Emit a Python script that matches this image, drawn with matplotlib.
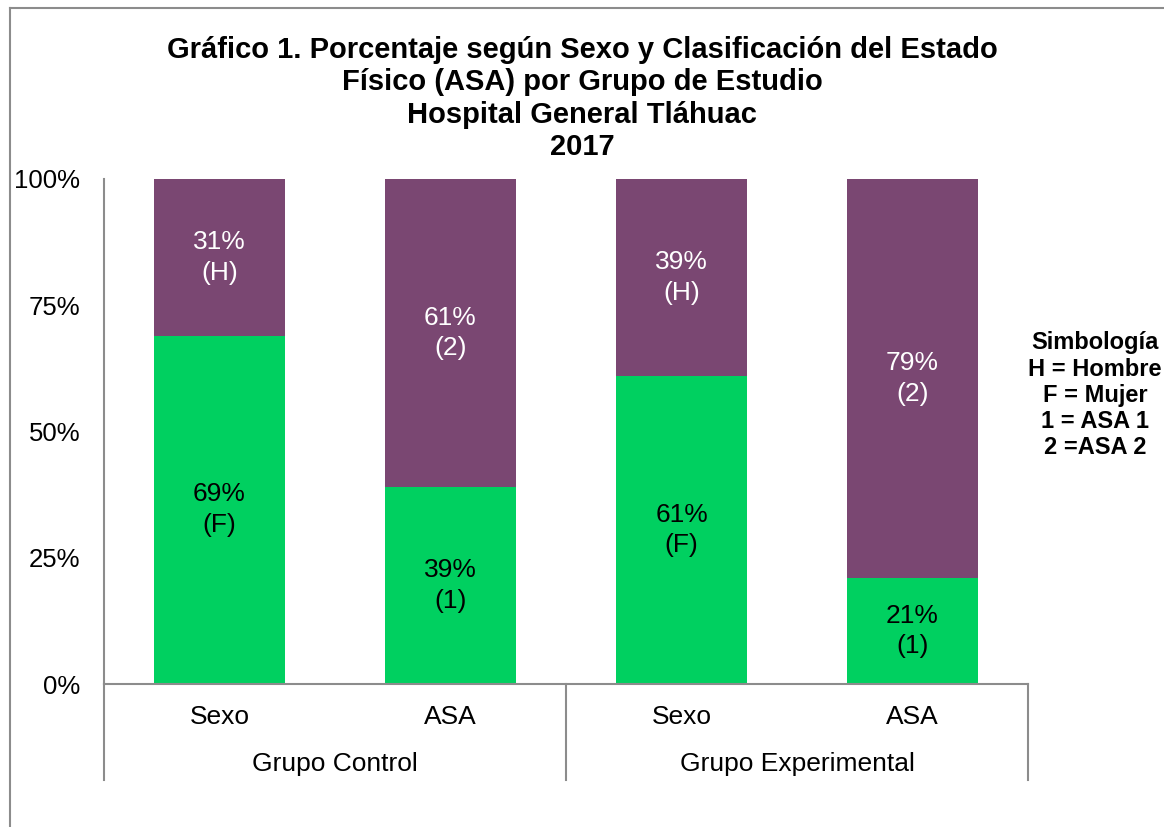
import matplotlib.pyplot as plt
from matplotlib.lines import Line2D

# Data
categories = ["Sexo", "ASA", "Sexo", "ASA"]
groups = ["Grupo Control", "Grupo Experimental"]
bottom_values = [69, 39, 61, 21]
top_values = [31, 61, 39, 79]
bottom_tags = ["(F)", "(1)", "(F)", "(1)"]
top_tags = ["(H)", "(2)", "(H)", "(2)"]
y_ticks = [0, 25, 50, 75, 100]
legend_lines = ["Simbología", "H = Hombre", "F = Mujer", "1 = ASA 1", "2 =ASA 2"]

green = "#00D060"
purple = "#7A4772"
axis_gray = "#8C8C8C"

plt.rcParams["font.family"] = ["Liberation Sans", "DejaVu Sans"]

fig = plt.figure(figsize=(11.64, 8.27), dpi=100)
ax = fig.add_axes([0.0893, 0.1729, 0.7939, 0.6107])

x = list(range(len(categories)))
ax.bar(x, bottom_values, width=0.57, color=green)
ax.bar(x, top_values, width=0.57, bottom=bottom_values, color=purple)

# Labels inside the bars
for i in x:
    ax.text(i, bottom_values[i] / 2, f"{bottom_values[i]}%\n{bottom_tags[i]}",
            ha="center", va="center", fontsize=19, color="black", linespacing=1.35)
    ax.text(i, bottom_values[i] + top_values[i] / 2, f"{top_values[i]}%\n{top_tags[i]}",
            ha="center", va="center", fontsize=19, color="white", linespacing=1.35)

ax.set_xlim(-0.5, len(categories) - 0.5)
ax.set_ylim(0, 100)
ax.set_yticks(y_ticks)
ax.set_yticklabels([f"{v}%" for v in y_ticks], fontsize=18.5)
ax.set_xticks(x)
ax.set_xticklabels(categories, fontsize=19)
ax.tick_params(axis="y", length=0, pad=17)
ax.tick_params(axis="x", length=0, pad=15)

for side in ["top", "right"]:
    ax.spines[side].set_visible(False)
for side in ["left", "bottom"]:
    ax.spines[side].set_color(axis_gray)
    ax.spines[side].set_linewidth(1.5)

# Group separators and group labels
for xs in [-0.5, 1.5, 3.5]:
    ax.plot([xs, xs], [0, -19], color=axis_gray, linewidth=1.5, clip_on=False,
            transform=ax.transData)
for k, g in enumerate(groups):
    ax.text(2 * k + 0.5, -15.8, g, ha="center", va="center", fontsize=19)

# Title
fig.text(0.5, 0.957, "Gráfico 1. Porcentaje según Sexo y Clasificación del Estado\n"
         "Físico (ASA) por Grupo de Estudio\nHospital General Tláhuac\n2017",
         ha="center", va="top", fontsize=21, fontweight="bold", linespacing=1.21)

# Symbol key
fig.text(0.9407, 0.522, "\n".join(legend_lines), ha="center", va="center",
         fontsize=17, fontweight="bold", linespacing=1.18)

# Chart border (left and top visible)
fig.add_artist(Line2D([0.0086, 0.0086], [0, 0.990], color=axis_gray, linewidth=1.5))
fig.add_artist(Line2D([0.0086, 1.0], [0.990, 0.990], color=axis_gray, linewidth=1.5))

fig.savefig("out.png", dpi=100)
